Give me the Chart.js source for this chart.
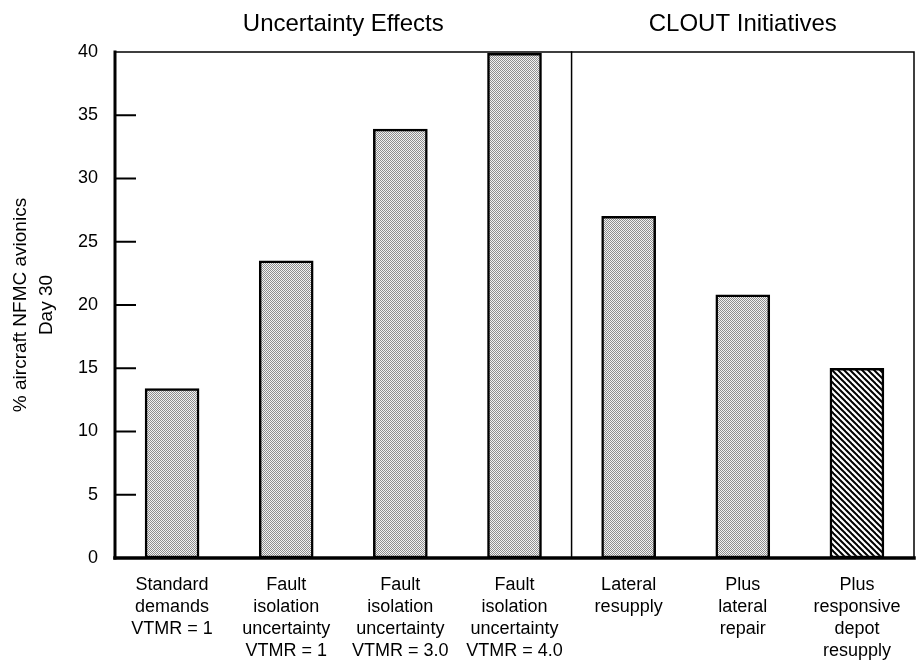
<!DOCTYPE html>
<html>
<head>
<meta charset="utf-8">
<script src="https://cdn.jsdelivr.net/npm/chart.js@4/dist/chart.umd.min.js"></script>
<style>
    body { margin: 0; background: #ffffff; }
    #wrap { width: 917px; height: 661px; }
</style>
</head>
<body>
<div id="wrap"><canvas id="chart" width="917" height="661"></canvas></div>
<script>
// Data
const categories = [
    ['Standard', 'demands', 'VTMR = 1'],
    ['Fault', 'isolation', 'uncertainty', 'VTMR = 1'],
    ['Fault', 'isolation', 'uncertainty', 'VTMR = 3.0'],
    ['Fault', 'isolation', 'uncertainty', 'VTMR = 4.0'],
    ['Lateral', 'resupply'],
    ['Plus', 'lateral', 'repair'],
    ['Plus', 'responsive', 'depot', 'resupply']
];
const nfmcValues = [13.4, 23.5, 33.9, 39.9, 27.0, 20.8, 15.0];
const groupTitles = ['Uncertainty Effects', 'CLOUT Initiatives'];
const groupSizes = [4, 3];
const yTicks = [0, 5, 10, 15, 20, 25, 30, 35, 40];

const FONT = '"Liberation Sans", Arial, Helvetica, sans-serif';

/**
 * Grey stipple fill like the printed screen tone
 */
function makeStipple() {
    const c = document.createElement('canvas');
    c.width = 4; c.height = 4;
    const g = c.getContext('2d');
    g.fillStyle = '#f2f2f2';
    g.fillRect(0, 0, 4, 4);
    g.fillStyle = '#8e8e8e';
    for (let y = 0; y < 4; y++) {
        for (let x = 0; x < 4; x++) {
            if ((x + y) % 2 === 0) g.fillRect(x, y, 1, 1);
        }
    }
    return g.createPattern(c, 'repeat');
}

/**
 * Diagonal hatch for the last bar
 */
function makeHatch() {
    const s = 6;
    const c = document.createElement('canvas');
    c.width = s; c.height = s;
    const g = c.getContext('2d');
    g.fillStyle = '#ffffff';
    g.fillRect(0, 0, s, s);
    g.strokeStyle = '#000000';
    g.lineWidth = 2;
    for (let k = -1; k <= 1; k++) {
        g.beginPath();
        g.moveTo(k * s - 1, -1);
        g.lineTo(k * s + s + 1, s + 1);
        g.stroke();
    }
    return g.createPattern(c, 'repeat');
}

const stipple = makeStipple();
const hatch = makeHatch();

// Frame, inner ticks, divider and group headers
const framePlugin = {
    id: 'frame',
    afterDatasetsDraw(chart) {
        const { ctx, chartArea: a, scales: { x, y } } = chart;
        ctx.save();
        ctx.strokeStyle = '#000000';
        ctx.lineCap = 'square';

        // thin top and right border
        ctx.lineWidth = 1.5;
        ctx.beginPath();
        ctx.moveTo(a.left, a.top);
        ctx.lineTo(a.right, a.top);
        ctx.lineTo(a.right, a.bottom);
        ctx.stroke();

        // divider between groups
        const divX = (x.getPixelForValue(groupSizes[0] - 1) + x.getPixelForValue(groupSizes[0])) / 2;
        ctx.beginPath();
        ctx.moveTo(divX, a.top);
        ctx.lineTo(divX, a.bottom);
        ctx.stroke();

        // inner y ticks
        ctx.lineWidth = 2;
        yTicks.forEach(v => {
            if (v === yTicks[0] || v === yTicks[yTicks.length - 1]) return;
            const py = y.getPixelForValue(v);
            ctx.beginPath();
            ctx.moveTo(a.left, py);
            ctx.lineTo(a.left + 20, py);
            ctx.stroke();
        });

        // heavy left and bottom axes
        ctx.lineWidth = 3;
        ctx.beginPath();
        ctx.moveTo(a.left, a.top);
        ctx.lineTo(a.left, a.bottom);
        ctx.stroke();
        ctx.lineWidth = 3.5;
        ctx.beginPath();
        ctx.moveTo(a.left, a.bottom);
        ctx.lineTo(a.right, a.bottom);
        ctx.stroke();

        // group headers
        ctx.fillStyle = '#000000';
        ctx.font = '24px ' + FONT;
        ctx.textAlign = 'center';
        ctx.textBaseline = 'alphabetic';
        let start = 0;
        groupTitles.forEach((t, i) => {
            const end = start + groupSizes[i] - 1;
            const cx = (x.getPixelForValue(start) + x.getPixelForValue(end)) / 2;
            ctx.fillText(t, cx, 31);
            start = end + 1;
        });
        ctx.restore();
    }
};

new Chart(document.getElementById('chart'), {
    type: 'bar',
    data: {
        labels: categories,
        datasets: [{
            data: nfmcValues,
            backgroundColor: c => (c.dataIndex === nfmcValues.length - 1 ? hatch : stipple),
            borderColor: '#000000',
            borderWidth: 2.5,
            borderSkipped: false,
            barThickness: 54
        }]
    },
    options: {
        responsive: false,
        animation: false,
        layout: { padding: { top: 52, right: 3, left: 0, bottom: 0 } },
        plugins: {
            legend: { display: false },
            tooltip: { enabled: false }
        },
        scales: {
            x: {
                grid: { display: false, drawTicks: false },
                border: { display: false },
                ticks: {
                    color: '#000000',
                    padding: 16,
                    maxRotation: 0,
                    autoSkip: false,
                    font: { family: FONT, size: 18, lineHeight: 1.22 }
                },
                afterFit: s => { s.height = 103; }
            },
            y: {
                min: 0,
                max: 40,
                afterBuildTicks: s => { s.ticks = yTicks.map(v => ({ value: v })); },
                grid: { display: false, drawTicks: false },
                border: { display: false },
                ticks: {
                    color: '#000000',
                    padding: 17,
                    font: { family: FONT, size: 18 }
                },
                title: {
                    display: true,
                    text: ['% aircraft NFMC avionics', 'Day 30'],
                    color: '#000000',
                    padding: { top: 8, bottom: 0 },
                    font: { family: FONT, size: 19, lineHeight: 1.35 }
                },
                afterFit: s => { s.width = 115; }
            }
        }
    },
    plugins: [framePlugin]
});
</script>
</body>
</html>
